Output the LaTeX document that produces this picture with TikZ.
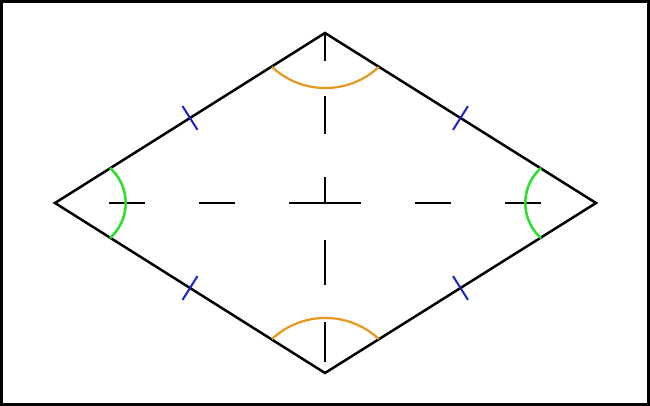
\documentclass[tikz,border=0pt]{standalone}
\usetikzlibrary{calc}
\definecolor{arcorange}{RGB}{232,150,30}
\definecolor{arcgreen}{RGB}{40,225,40}
\definecolor{tickblue}{RGB}{25,35,200}
\begin{document}
\begin{tikzpicture}[x=1pt,y=-1pt,
  frame/.style={draw=black,line width=3pt},
  side/.style={draw=black,line width=2.5pt,line join=miter},
  diag/.style={draw=black,line width=2.8pt},
  tickmark/.style={draw=tickblue,line width=2pt},
  oarc/.style={draw=arcorange,line width=2.2pt},
  garc/.style={draw=arcgreen,line width=2.5pt}]
\useasboundingbox (0,0) rectangle (650,406);
\draw[frame] (1.5,1.5) rectangle (648.5,404.5);
% vertices
\coordinate (L) at (55,203);
\coordinate (T) at (325,33);
\coordinate (R) at (596,203);
\coordinate (B) at (325,373);
\coordinate (O) at (325,203);
% diagonals
\draw[diag,dash pattern=on 36pt off 54pt] (O) -- (L);
\draw[diag,dash pattern=on 36pt off 54pt] (O) -- (R);
\draw[diag,dash pattern=on 28pt off 35pt on 38pt off 43pt on 26pt off 50pt] (T) -- (O);
\draw[diag,dash pattern=on 0pt off 37pt on 45pt off 37pt on 40pt off 50pt] (O) -- (B);
% rhombus
\draw[side] (L) -- (T) -- (R) -- (B) -- cycle;
% tick marks
\coordinate (m1) at ($(L)!0.5!(T)$);
\coordinate (m2) at ($(T)!0.5!(R)$);
\coordinate (m3) at ($(L)!0.5!(B)$);
\coordinate (m4) at ($(B)!0.5!(R)$);
\draw[tickmark] ($(m1)!14pt!90:(T)$) -- ($(m1)!14pt!-90:(T)$);
\draw[tickmark] ($(m2)!14pt!90:(R)$) -- ($(m2)!14pt!-90:(R)$);
\draw[tickmark] ($(m3)!14pt!90:(B)$) -- ($(m3)!14pt!-90:(B)$);
\draw[tickmark] ($(m4)!14pt!90:(R)$) -- ($(m4)!14pt!-90:(R)$);
% angle arcs
\coordinate (ta) at (272,67);
\coordinate (ba) at (272,339);
\coordinate (la) at (110,168);
\coordinate (ra) at (541,168);
\draw[oarc] (ta) arc[start angle=133, end angle=47, radius=78.3];
\draw[oarc] (ba) arc[start angle=227, end angle=313, radius=78.3];
\draw[garc] (la) arc[start angle=-48.3, end angle=48.3, radius=46.9];
\draw[garc] (ra) arc[start angle=228.3, end angle=131.7, radius=46.9];
\end{tikzpicture}
\end{document}
